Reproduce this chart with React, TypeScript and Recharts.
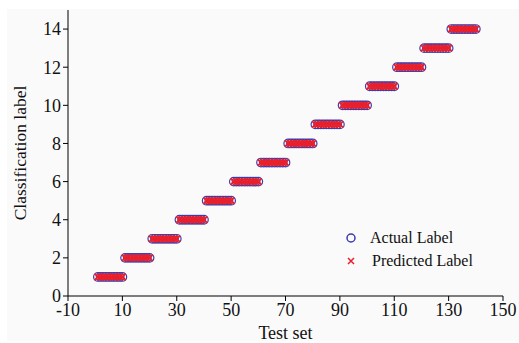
import { ScatterChart, Scatter, XAxis, YAxis } from 'recharts'

// label of every test sample, 140 samples in test order
const actualLabels = [
  1, 1, 1, 1, 1, 1, 1, 1, 1, 1,
  2, 2, 2, 2, 2, 2, 2, 2, 2, 2,
  3, 3, 3, 3, 3, 3, 3, 3, 3, 3,
  4, 4, 4, 4, 4, 4, 4, 4, 4, 4,
  5, 5, 5, 5, 5, 5, 5, 5, 5, 5,
  6, 6, 6, 6, 6, 6, 6, 6, 6, 6,
  7, 7, 7, 7, 7, 7, 7, 7, 7, 7,
  8, 8, 8, 8, 8, 8, 8, 8, 8, 8,
  9, 9, 9, 9, 9, 9, 9, 9, 9, 9,
  10, 10, 10, 10, 10, 10, 10, 10, 10, 10,
  11, 11, 11, 11, 11, 11, 11, 11, 11, 11,
  12, 12, 12, 12, 12, 12, 12, 12, 12, 12,
  13, 13, 13, 13, 13, 13, 13, 13, 13, 13,
  14, 14, 14, 14, 14, 14, 14, 14, 14, 14,
]

const predictedLabels = [
  1, 1, 1, 1, 1, 1, 1, 1, 1, 1,
  2, 2, 2, 2, 2, 2, 2, 2, 2, 2,
  3, 3, 3, 3, 3, 3, 3, 3, 3, 3,
  4, 4, 4, 4, 4, 4, 4, 4, 4, 4,
  5, 5, 5, 5, 5, 5, 5, 5, 5, 5,
  6, 6, 6, 6, 6, 6, 6, 6, 6, 6,
  7, 7, 7, 7, 7, 7, 7, 7, 7, 7,
  8, 8, 8, 8, 8, 8, 8, 8, 8, 8,
  9, 9, 9, 9, 9, 9, 9, 9, 9, 9,
  10, 10, 10, 10, 10, 10, 10, 10, 10, 10,
  11, 11, 11, 11, 11, 11, 11, 11, 11, 11,
  12, 12, 12, 12, 12, 12, 12, 12, 12, 12,
  13, 13, 13, 13, 13, 13, 13, 13, 13, 13,
  14, 14, 14, 14, 14, 14, 14, 14, 14, 14,
]

const xTicks = [-10, 10, 30, 50, 70, 90, 110, 130, 150]
const yTicks = [0, 2, 4, 6, 8, 10, 12, 14]

const BLUE = '#3a3cb0'
const RED = '#e8202c'
const FONT = '"Liberation Serif", "DejaVu Serif", serif'

const actualData = actualLabels.map((label, i) => ({ sample: i + 1, label }))
const predictedData = predictedLabels.map((label, i) => ({ sample: i + 1, label }))

const Ring = (props: any) => (
  <circle cx={props.cx} cy={props.cy} r={4.3} fill="none" stroke={BLUE} strokeWidth={1.2} />
)

const Cross = (props: any) => {
  const { cx, cy } = props
  const s = 3.3
  return (
    <path
      d={`M${cx - s},${cy - s}L${cx + s},${cy + s}M${cx - s},${cy + s}L${cx + s},${cy - s}`}
      stroke={RED}
      strokeWidth={1.9}
      fill="none"
    />
  )
}

const LegendBox = () => (
  <div
    style={{
      position: 'absolute',
      left: 344,
      top: 226,
      fontFamily: FONT,
      fontSize: 16,
      color: '#111',
      lineHeight: '23px',
    }}
  >
    <div style={{ display: 'flex', alignItems: 'center' }}>
      <svg width={26} height={14}>
        <circle cx={7} cy={7} r={4} fill="none" stroke={BLUE} strokeWidth={1.5} />
      </svg>
      <span>Actual Label</span>
    </div>
    <div style={{ display: 'flex', alignItems: 'center' }}>
      <svg width={28} height={14}>
        <path d="M4,4L10,10M4,10L10,4" stroke={RED} strokeWidth={1.5} />
      </svg>
      <span>Predicted Label</span>
    </div>
  </div>
)

export default function App() {
  return (
    <div
      style={{
        position: 'absolute',
        left: 0,
        top: 0,
        width: 519,
        height: 343,
        background: '#fff',
      }}
    >
      <div
        style={{
          position: 'absolute',
          left: 7,
          top: 9,
          width: 512,
          height: 332,
          background: '#fafafa',
        }}
      />
      <div style={{ position: 'absolute', left: 0, top: 0 }}>
        <ScatterChart width={519} height={343} margin={{ top: 10, right: 16, left: 8, bottom: 17 }}>
          <XAxis
            type="number"
            dataKey="sample"
            domain={[-10, 150]}
            ticks={xTicks}
            allowDataOverflow
            height={30}
            stroke="#000"
            tickSize={5}
            tick={{ fill: '#111', fontSize: 18, fontFamily: FONT }}
            label={{ value: 'Test set', position: 'insideBottom', offset: -13, fill: '#111', fontSize: 18, fontFamily: FONT }}
          />
          <YAxis
            type="number"
            dataKey="label"
            domain={[0, 15]}
            ticks={yTicks}
            allowDataOverflow
            width={60}
            stroke="#000"
            tickSize={5}
            tick={{ fill: '#111', fontSize: 18, fontFamily: FONT }}
            label={{
              value: 'Classification label',
              angle: -90,
              position: 'insideLeft',
              offset: 12,
              style: { textAnchor: 'middle' },
              fill: '#111',
              fontSize: 17.5,
              fontFamily: FONT,
            }}
          />
          <Scatter name="Actual Label" data={actualData} shape={Ring} isAnimationActive={false} />
          <Scatter name="Predicted Label" data={predictedData} shape={Cross} isAnimationActive={false} />
        </ScatterChart>
      </div>
      <LegendBox />
    </div>
  )
}
